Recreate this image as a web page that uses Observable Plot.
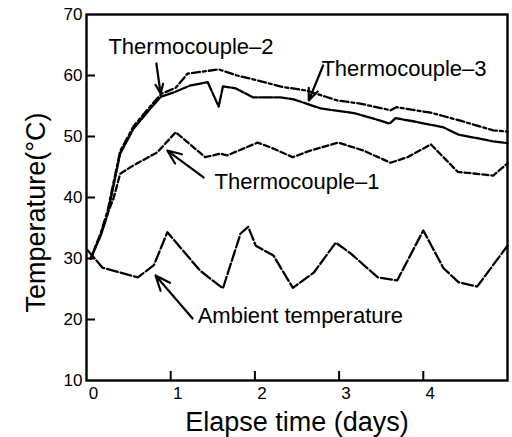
<!DOCTYPE html>
<html><head><meta charset="utf-8">
<script src="https://cdn.jsdelivr.net/npm/d3@7"></script>
<script src="https://cdn.jsdelivr.net/npm/@observablehq/plot@0.6"></script>
<style>body{margin:0;background:#fff}</style>
</head><body><div id="chart"></div>
<script>
// ---- data (elapsed days, temperature °C) ----
const ambientDays = [0.01,0.19,0.61,0.80,0.96,1.35,1.62,1.83,1.92,2.01,2.22,2.45,2.70,2.96,3.14,3.46,3.69,4.00,4.24,4.42,4.64,5.00];
const ambientTemp = [31.4,28.5,26.9,28.9,34.3,28.0,25.1,34.1,35.2,32.1,30.5,25.2,27.7,32.6,30.8,26.9,26.4,34.6,28.4,26.1,25.4,32.1];

const tc1Days = [0.05,0.17,0.25,0.32,0.40,0.55,0.84,1.06,1.41,1.59,1.67,2.03,2.19,2.45,2.66,2.99,3.29,3.61,3.81,4.09,4.41,4.83,5.00];
const tc1Temp = [30.0,34.0,37.4,39.8,43.9,45.2,47.4,50.7,46.6,47.2,46.9,49.0,48.2,46.6,47.7,49.0,47.7,45.7,46.6,48.7,44.2,43.6,45.6];

const tc2Days = [0.05,0.17,0.25,0.40,0.56,0.76,0.89,1.06,1.20,1.57,1.79,2.03,2.30,2.62,2.80,2.98,3.25,3.61,3.68,4.09,4.44,4.83,5.00];
const tc2Temp = [30.0,34.2,37.8,47.6,51.7,55.0,57.0,58.0,60.3,61.0,60.0,59.2,58.2,57.5,56.7,55.9,55.4,54.3,54.8,53.9,52.6,51.0,50.8];

const tc3Days = [0.05,0.17,0.25,0.40,0.56,0.76,0.88,1.03,1.24,1.44,1.57,1.62,1.77,1.98,2.30,2.46,2.78,3.19,3.49,3.60,3.67,3.88,4.24,4.42,4.83,5.00];
const tc3Temp = [30.0,33.8,37.2,47.2,51.3,54.6,56.5,57.2,58.4,58.9,54.9,58.2,57.9,56.4,56.4,56.1,54.6,53.8,52.6,52.1,53.0,52.5,51.5,50.3,49.2,48.9];

const xTicks = [0,1,2,3,4];
const yTicks = [10,20,30,40,50,60,70];
const xInnerTicks = [1,2,3,4];
const yInnerTicks = [20,30,40,50,60];

const labelTexts = ["Thermocouple\u20132","Thermocouple\u20133","Thermocouple\u20131","Ambient temperature"];
const labelDays  = [0.26, 2.79, 1.52, 1.32];
const labelTemps = [64.75, 61.15, 42.6, 20.5];

const arrowFromDays  = [0.83, 2.81, 1.39, 1.26];
const arrowFromTemps = [61.97, 61.64, 43.28, 20.16];
const arrowToDays    = [0.88, 2.64, 0.96, 0.82];
const arrowToTemps   = [57.05, 55.9, 47.70, 27.21];

const xTitle = "Elapse time (days)";
const yTitle = "Temperature(\u00B0C)";

// ---- build tables ----
const toRows = (xs, ys) => xs.map((d, i) => ({day: d, temp: ys[i]}));
const ambient = toRows(ambientDays, ambientTemp);
const tc1 = toRows(tc1Days, tc1Temp);
const tc2 = toRows(tc2Days, tc2Temp);
const tc3 = toRows(tc3Days, tc3Temp);
const labels = labelTexts.map((t, i) => ({text: t, day: labelDays[i], temp: labelTemps[i]}));
const arrows = arrowFromDays.map((d, i) => ({x1: d, y1: arrowFromTemps[i], x2: arrowToDays[i], y2: arrowToTemps[i]}));

const W = 512, H = 437, mL = 86, mR = 5, mT = 14, mB = 57;
const plotW = W - mL - mR, plotH = H - mT - mB;
const font = "'Liberation Sans', Arial, Helvetica, sans-serif";
const lw = 2.3;

const chart = Plot.plot({
  width: W, height: H,
  marginLeft: mL, marginRight: mR, marginTop: mT, marginBottom: mB,
  style: {fontFamily: font, background: "#fff", color: "#000", overflow: "visible"},
  x: {domain: [0, 5]},
  y: {domain: [10, 70]},
  marks: [
    Plot.axisY(yTicks, {tickSize: 0, tickPadding: 4, fontSize: 17, label: null}),
    Plot.axisX(xTicks, {tickSize: 0, tickPadding: 6, dx: 7, fontSize: 17, label: null}),
    Plot.tickY(yInnerTicks, {y: d => d, insetRight: plotW - 9, strokeWidth: 2}),
    Plot.tickX(xInnerTicks, {x: d => d, insetTop: plotH - 9, strokeWidth: 2}),
    Plot.frame({strokeWidth: 2.4}),
    Plot.line(ambient, {x: "day", y: "temp", strokeWidth: lw, strokeDasharray: "11,3"}),
    Plot.line(tc1, {x: "day", y: "temp", strokeWidth: lw, strokeDasharray: "6,3"}),
    Plot.line(tc2, {x: "day", y: "temp", strokeWidth: lw, strokeDasharray: "8,3,3,3"}),
    Plot.line(tc3, {x: "day", y: "temp", strokeWidth: lw, strokeDasharray: "13,2"}),
    Plot.text(labels, {x: "day", y: "temp", text: "text", textAnchor: "start", fontSize: 22}),
    Plot.arrow(arrows, {x1: "x1", y1: "y1", x2: "x2", y2: "y2", headLength: 11, headAngle: 45, strokeWidth: 2.2}),
    Plot.text([xTitle], {text: d => d, frameAnchor: "bottom", textAnchor: "middle", lineAnchor: "bottom", dy: 50, fontSize: 27}),
    Plot.text([yTitle], {text: d => d, frameAnchor: "left", textAnchor: "middle", lineAnchor: "middle", rotate: -90, dx: -50, dy: 15, fontSize: 27})
  ]
});
document.getElementById("chart").appendChild(chart);
</script>
</body></html>
